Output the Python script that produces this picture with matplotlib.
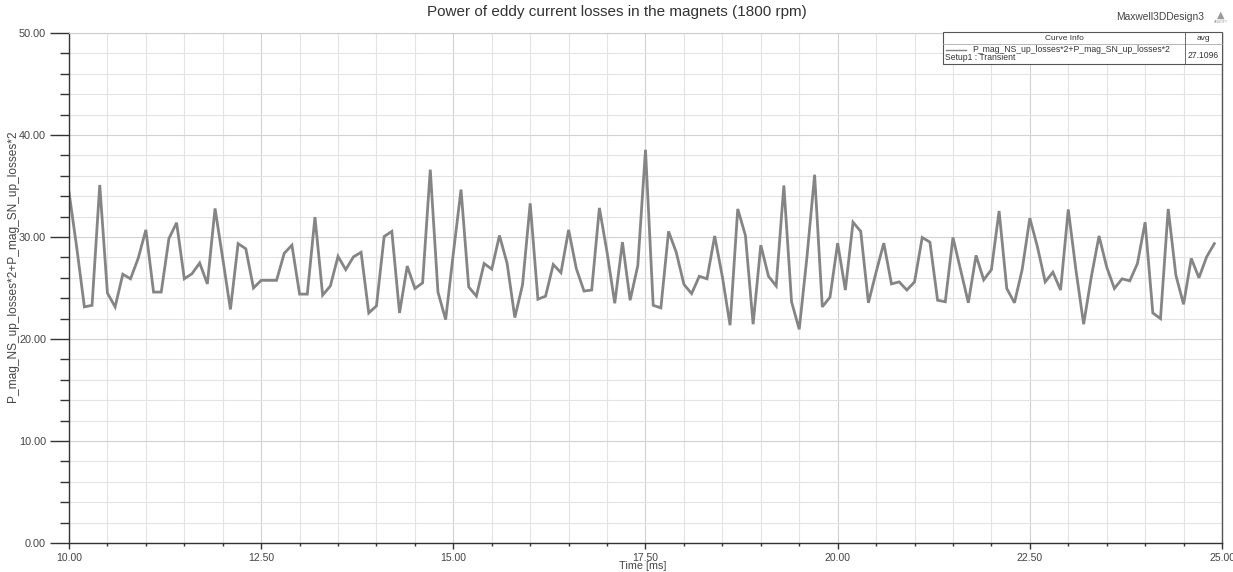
import numpy as np
import matplotlib
matplotlib.use("Agg")
import matplotlib.pyplot as plt
from matplotlib.patches import Rectangle
from matplotlib.lines import Line2D
from matplotlib.ticker import MultipleLocator, FormatStrFormatter

# ---- data ----
t_start = 10.0
t_step = 0.1
losses = [
    34.4, 29.0, 23.15, 23.3, 35.1, 24.5, 23.15, 26.35, 25.9, 27.9,
    30.7, 24.6, 24.6, 29.85, 31.4, 25.9, 26.4, 27.45, 25.4, 32.8,
    27.9, 22.9, 29.35, 28.85, 25.0, 25.75, 25.75, 25.75, 28.4, 29.2,
    24.4, 24.4, 31.95, 24.3, 25.2, 28.1, 26.8, 28.05, 28.5, 22.55,
    23.25, 30.05, 30.55, 22.55, 27.15, 24.95, 25.5, 36.6, 24.6, 21.9,
    28.4, 34.65, 25.1, 24.2, 27.4, 26.85, 30.15, 27.4, 22.1, 25.3,
    33.3, 23.9, 24.2, 27.3, 26.5, 30.7, 26.9, 24.7, 24.8, 32.85,
    28.5, 23.5, 29.5, 23.8, 27.2, 38.55, 23.3, 23.05, 30.55, 28.5,
    25.35, 24.45, 26.15, 25.9, 30.1, 26.1, 21.35, 32.75, 30.15, 21.45,
    29.2, 26.15, 25.2, 35.05, 23.65, 20.95, 28.0, 36.1, 23.15, 24.1,
    29.4, 24.8, 31.45, 30.55, 23.55, 26.55, 29.4, 25.4, 25.6, 24.8,
    25.6, 29.95, 29.5, 23.8, 23.65, 29.95, 26.75, 23.55, 28.2, 25.8,
    26.8, 32.55, 24.95, 23.55, 26.8, 31.85, 29.0, 25.6, 26.55, 24.8,
    32.7, 26.75, 21.45, 26.1, 30.1, 27.05, 24.95, 25.9, 25.7, 27.4,
    31.45, 22.55, 22.0, 32.75, 26.25, 23.4, 27.9, 26.0, 28.05, 29.35,
]
time_ms = [round(t_start + i * t_step, 2) for i in range(len(losses))]

title = "Power of eddy current losses in the magnets (1800 rpm)"
xlabel = "Time [ms]"
ylabel = "P_mag_NS_up_losses*2+P_mag_SN_up_losses*2"
legend_name = "P_mag_NS_up_losses*2+P_mag_SN_up_losses*2"
legend_setup = "Setup1 : Transient"
avg_value = "27.1096"
design_name = "Maxwell3DDesign3"

plt.rcParams['font.family'] = ['Liberation Sans', 'DejaVu Sans']

W, H = 1233, 572
fig = plt.figure(figsize=(W / 100, H / 100), dpi=100)


def fx(x):
    return x / W


def fy(y):
    return 1 - y / H


L, R, T, B = 69, 1222, 33, 543
ax = fig.add_axes([fx(L), fy(B), fx(R) - fx(L), fy(T) - fy(B)])

ax.plot(time_ms, losses, color='#858585', lw=2.0, solid_joinstyle='miter')

ax.set_xlim(10, 25)
ax.set_ylim(0, 50)
ax.xaxis.set_major_locator(MultipleLocator(2.5))
ax.xaxis.set_minor_locator(MultipleLocator(0.5))
ax.yaxis.set_major_locator(MultipleLocator(10))
ax.yaxis.set_minor_locator(MultipleLocator(2))
ax.xaxis.set_major_formatter(FormatStrFormatter('%.2f'))
ax.yaxis.set_major_formatter(FormatStrFormatter('%.2f'))

ax.grid(which='major', color='#d2d2d2', lw=0.8)
ax.grid(which='minor', color='#e3e3e3', lw=0.8)
ax.set_axisbelow(True)

ax.tick_params(axis='y', which='major', direction='out', length=13.5, width=1.0,
               color='#333333', labelsize=7.8, labelcolor='#444444', pad=3)
ax.tick_params(axis='y', which='minor', direction='out', length=6.5, width=1.0,
               color='#333333')
ax.tick_params(axis='x', which='major', direction='out', length=4, width=1.0,
               color='#333333', labelsize=7.5, labelcolor='#444444', pad=3)
ax.tick_params(axis='x', which='minor', direction='out', length=2.5, width=1.0,
               color='#333333')

for s in ['left', 'bottom']:
    ax.spines[s].set_color('#333333')
    ax.spines[s].set_linewidth(1.0)
ax.spines['right'].set_color('#555555')
ax.spines['right'].set_linewidth(1.0)
ax.spines['top'].set_color('#cccccc')
ax.spines['top'].set_linewidth(0.8)

ax.set_xlabel(xlabel, fontsize=7.8, color='#444444')
ax.set_ylabel(ylabel, fontsize=8.6, color='#444444')
ax.xaxis.set_label_coords((643 - L) / (R - L), -0.035)
ax.yaxis.set_label_coords((19 - L) / (R - L), (B - 266) / (B - T))

fig.text(0.5, fy(12), title, ha='center', va='center', fontsize=11, color='#333333')
fig.text(fx(1204), fy(17), design_name, ha='right', va='center', fontsize=7.4, color='#444444')
fig.text(fx(1221), fy(15), "\u25B2", ha='center', va='center', fontsize=7, color='#9a9a9a',
         family=['DejaVu Sans'])
fig.text(fx(1221), fy(22), "ANSOFT", ha='center', va='center', fontsize=2.5, color='#9a9a9a')

# legend table
lx0, lx1, ldiv = 943, 1222, 1185
ly0, ly_mid, ly1 = 32, 44, 64
ec = '#555555'
fig.patches.append(Rectangle((fx(lx0), fy(ly1)), fx(lx1) - fx(lx0), fy(ly0) - fy(ly1),
                             transform=fig.transFigure, facecolor='white', edgecolor=ec,
                             lw=0.8, zorder=5))
fig.lines.append(Line2D([fx(lx0), fx(lx1)], [fy(ly_mid), fy(ly_mid)], transform=fig.transFigure,
                        color='#aaaaaa', lw=0.6, zorder=6))
fig.lines.append(Line2D([fx(ldiv), fx(ldiv)], [fy(ly0), fy(ly1)], transform=fig.transFigure,
                        color=ec, lw=0.6, zorder=6))
fig.text(fx((lx0 + ldiv) / 2), fy(38), "Curve Info", ha='center', va='center', fontsize=6,
         color='#333333', zorder=7)
fig.text(fx((ldiv + lx1) / 2), fy(38), "avg", ha='center', va='center', fontsize=6,
         color='#333333', zorder=7)
fig.lines.append(Line2D([fx(946), fx(966)], [fy(50), fy(50)], transform=fig.transFigure,
                        color='#858585', lw=1.0, zorder=7))
fig.text(fx(972), fy(50), legend_name, ha='left', va='center', fontsize=6.2,
         color='#333333', zorder=7)
fig.text(fx(945), fy(58), legend_setup, ha='left', va='center', fontsize=6.2,
         color='#333333', zorder=7)
fig.text(fx((ldiv + lx1) / 2), fy(55), avg_value, ha='center', va='center', fontsize=6.2,
         color='#333333', zorder=7)

fig.savefig('out.png', dpi=100, facecolor='white')
